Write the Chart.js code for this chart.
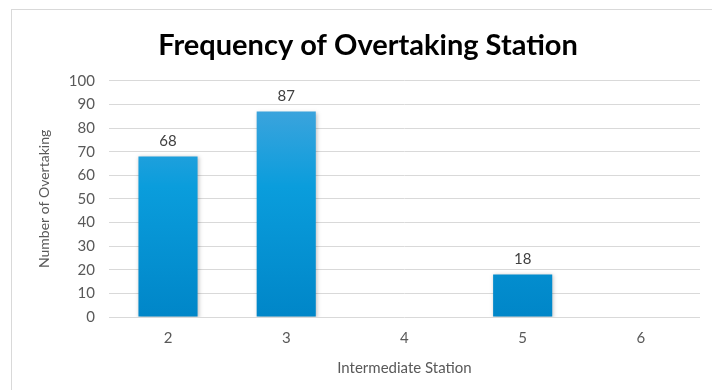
<!DOCTYPE html>
<html>
<head>
<meta charset="utf-8">
<script src="https://cdn.jsdelivr.net/npm/chart.js@4/dist/chart.umd.min.js"></script>
<style>
  html, body { margin: 0; padding: 0; background: #fff; }
  #wrap { position: relative; width: 712px; height: 390px; overflow: hidden; }
  #frame { position: absolute; left: 11px; top: 9px; width: 760px; height: 440px;
           border-left: 1px solid #d9d9d9; border-top: 1px solid #d9d9d9; box-sizing: border-box; }
  canvas { position: absolute; left: 0; top: 0; }
</style>
</head>
<body>
<div id="wrap">
  <div id="frame"></div>
  <canvas id="c" width="712" height="390"></canvas>
</div>
<script>
const stations = ['2', '3', '4', '5', '6'];
const overtakings = [68, 87, 0, 18, 0];
const yTicks = [0, 10, 20, 30, 40, 50, 60, 70, 80, 90, 100];

const FONT = 'Lato, "Open Sans", sans-serif';
const GREY = '#595959';

// vertical blue gradient, lighter at the top of each bar
function barFill(ctx) {
  const area = ctx.chart.chartArea;
  if (!area) return '#0a98d8';
  const el = ctx.element;
  const top = el && isFinite(el.y) ? el.y : area.top;
  const bottom = el && isFinite(el.base) ? el.base : area.bottom;
  if (bottom - top < 1) return '#0a98d8';
  const g = ctx.chart.ctx.createLinearGradient(0, top, 0, bottom);
  g.addColorStop(0, '#4ea6dd');
  g.addColorStop(0.45, '#0a9ddc');
  g.addColorStop(1, '#0086c8');
  return g;
}

// value labels above non-empty bars
const valueLabels = {
  id: 'valueLabels',
  afterDatasetsDraw(chart) {
    const ctx = chart.ctx;
    const meta = chart.getDatasetMeta(0);
    ctx.save();
    ctx.font = '15px ' + FONT;
    ctx.fillStyle = '#404040';
    ctx.textAlign = 'center';
    ctx.textBaseline = 'bottom';
    meta.data.forEach((bar, i) => {
      const v = overtakings[i];
      if (v > 0) ctx.fillText(String(v), bar.x, bar.y - 8);
    });
    ctx.restore();
  }
};

// soft shadow behind bars
const barShadow = {
  id: 'barShadow',
  beforeDatasetsDraw(chart) {
    const ctx = chart.ctx;
    ctx.save();
    ctx.shadowColor = 'rgba(0,0,0,0.25)';
    ctx.shadowBlur = 4;
    ctx.shadowOffsetX = 1;
    ctx.shadowOffsetY = 1;
  },
  afterDatasetsDraw(chart) {
    chart.ctx.restore();
  }
};

new Chart(document.getElementById('c'), {
  type: 'bar',
  data: {
    labels: stations,
    datasets: [{
      data: overtakings,
      backgroundColor: barFill,
      borderWidth: 0,
      barPercentage: 0.5,
      categoryPercentage: 1.0
    }]
  },
  options: {
    responsive: false,
    animation: false,
    layout: { padding: { left: 36, right: 12, top: 18, bottom: 13 } },
    plugins: {
      legend: { display: false },
      tooltip: { enabled: false },
      title: {
        display: true,
        text: 'Frequency of Overtaking Station',
        color: '#000',
        font: { family: FONT, size: 29, weight: 'bold' },
        padding: { top: 10, bottom: 18 }
      }
    },
    scales: {
      x: {
        grid: { display: false, drawTicks: false },
        border: { display: false },
        ticks: { color: GREY, font: { family: FONT, size: 15 }, padding: 12 },
        title: {
          display: true,
          text: 'Intermediate Station',
          color: GREY,
          font: { family: FONT, size: 15 },
          padding: { top: 0, bottom: 0 }
        }
      },
      y: {
        min: 0,
        max: 100,
        afterBuildTicks(axis) { axis.ticks = yTicks.map(v => ({ value: v })); },
        grid: { color: '#d9d9d9', lineWidth: 1, drawTicks: false },
        border: { display: false },
        ticks: { color: GREY, font: { family: FONT, size: 15 }, padding: 14 },
        title: {
          display: true,
          text: 'Number of Overtaking',
          color: GREY,
          font: { family: FONT, size: 14 },
          padding: { top: 0, bottom: 2 }
        }
      }
    }
  },
  plugins: [barShadow, valueLabels]
});
</script>
</body>
</html>
